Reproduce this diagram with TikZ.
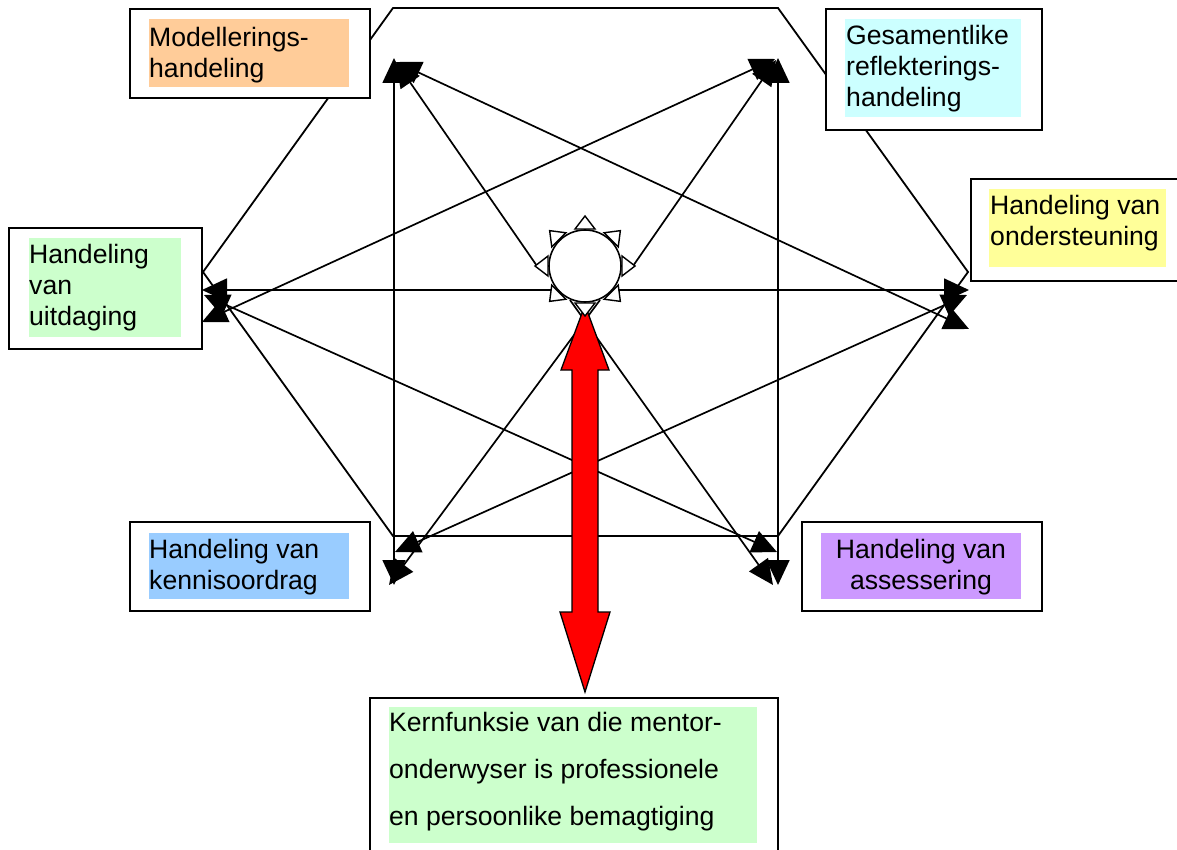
\documentclass[tikz,border=0pt]{standalone}
\usepackage{fontspec}
\setmainfont{Liberation Sans}
\usetikzlibrary{arrows.meta}
\definecolor{hlorange}{HTML}{FFCC99}
\definecolor{hlcyan}{HTML}{CCFFFF}
\definecolor{hlyellow}{HTML}{FFFF99}
\definecolor{hlgreen}{HTML}{CCFFCC}
\definecolor{hlblue}{HTML}{99CCFF}
\definecolor{hlviolet}{HTML}{CC99FF}
\definecolor{arrowred}{HTML}{FF0000}
\begin{document}
\begin{tikzpicture}[x=1pt,y=-1pt,
  hexedge/.style={line width=1.8pt, line join=miter},
  link/.style={line width=1.7pt, {Triangle[length=25pt,width=23pt]}-{Triangle[length=25pt,width=23pt]}},
  sunlink/.style={line width=1.7pt, -{Triangle[length=25pt,width=23pt]}},
  raystyle/.style={line width=1.4pt, fill=white, line join=miter},
  boxst/.style={draw, line width=1.8pt, fill=white, anchor=north west, inner sep=0pt},
  hl/.style={anchor=north west, inner sep=0pt, draw=none},
  txt/.style={font=\fontsize{26.6}{30.8}\selectfont, inner sep=0pt, align=left, anchor=north west},
]
\useasboundingbox (0,0) rectangle (1177,850);
\clip (0,0) rectangle (1177,850);
\fill[white] (0,0) rectangle (1177,850);

% outline hexagon
\draw[hexedge] (393,8) -- (778,8) -- (968,272) -- (778,536) -- (393,536) -- (203,272) -- cycle;

% end points of the connectors
\coordinate (TLa) at (394,58);
\coordinate (BLa) at (394,585);
\coordinate (TRa) at (778,58);
\coordinate (BRa) at (778,585);
\coordinate (La) at (202,290);
\coordinate (Ra) at (969,290);
\coordinate (TLb) at (396,62);
\coordinate (Rb) at (969,329);
\coordinate (TRb) at (775,59);
\coordinate (Lb) at (202,322);
\coordinate (Lc) at (204,295);
\coordinate (BRc) at (777,552);
\coordinate (Rc) at (967,295);
\coordinate (BLc) at (395,552);
\coordinate (TLd) at (396,62);
\coordinate (TRd) at (776,60);
\coordinate (BLd) at (389,585);
\coordinate (BRd) at (773,585);
\coordinate (sW) at (537,266);
\coordinate (sE) at (633,266);
\coordinate (sSa) at (600,300);
\coordinate (sSb) at (570,300);

% connectors
\draw[link] (TLa) -- (BLa);
\draw[link] (TRa) -- (BRa);
\draw[link] (La) -- (Ra);
\draw[link] (TLb) -- (Rb);
\draw[link] (TRb) -- (Lb);
\draw[link] (Lc) -- (BRc);
\draw[link] (Rc) -- (BLc);
\draw[sunlink] (sW) -- (TLd);
\draw[sunlink] (sE) -- (TRd);
\draw[sunlink] (sSa) -- (BLd);
\draw[sunlink] (sSb) -- (BRd);

% red double arrow
\draw[line width=1.3pt, fill=arrowred, line join=miter]
  (585,305) -- (609,370) -- (598,370) -- (598,612) -- (610,612) -- (585,692)
  -- (560,612) -- (572,612) -- (572,370) -- (561,370) -- cycle;

% sun
\foreach \a in {0,45,...,315}
  \draw[raystyle, shift={(585,266)}, rotate=\a] (37,-10) -- (50,0) -- (37,10) -- cycle;
\node[circle, draw, fill=white, line width=1.6pt, minimum size=72pt, inner sep=0pt] (sun) at (585,266) {};

% boxes
\node[boxst, minimum width=240pt, minimum height=89pt] (b1) at (129,8) {};
\node[hl, fill=hlorange, minimum width=200pt, minimum height=68pt] (h1) at (149,19) {};
\node[txt] (t1) at (149,27) {Modellerings-\\handeling};

\node[boxst, minimum width=216pt, minimum height=121pt] (b2) at (825,8) {};
\node[hl, fill=hlcyan, minimum width=176pt, minimum height=98pt] (h2) at (845,19) {};
\node[txt] (t2) at (846,25) {Gesamentlike\\reflekterings-\\handeling};

\node[boxst, minimum width=220pt, minimum height=102pt] (b3) at (970,178) {};
\node[hl, fill=hlyellow, minimum width=177pt, minimum height=78pt] (h3) at (989,189) {};
\node[txt] (t3) at (990,195) {Handeling van\\ondersteuning};

\node[boxst, minimum width=193pt, minimum height=121pt] (b4) at (8,227) {};
\node[hl, fill=hlgreen, minimum width=152pt, minimum height=99pt] (h4) at (29,238) {};
\node[txt] (t4) at (29,244) {Handeling\\van\\uitdaging};

\node[boxst, minimum width=240pt, minimum height=89pt] (b5) at (129,521) {};
\node[hl, fill=hlblue, minimum width=200pt, minimum height=66pt] (h5) at (149,533) {};
\node[txt] (t5) at (149,539) {Handeling van\\kennisoordrag};

\node[boxst, minimum width=240pt, minimum height=89pt] (b6) at (801,521) {};
\node[hl, fill=hlviolet, minimum width=200pt, minimum height=66pt] (h6) at (821,533) {};
\node[txt, align=center, anchor=north] (t6) at (921,539) {Handeling van\\assessering};

\node[boxst, minimum width=408pt, minimum height=170pt] (b7) at (369,697) {};
\node[hl, fill=hlgreen, minimum width=368pt, minimum height=136pt] (h7) at (389,707) {};
\node[txt, font=\fontsize{26.6}{47}\selectfont] (t7) at (389,712) {Kernfunksie van die mentor-\\onderwyser is professionele\\en persoonlike bemagtiging};
\end{tikzpicture}
\end{document}
